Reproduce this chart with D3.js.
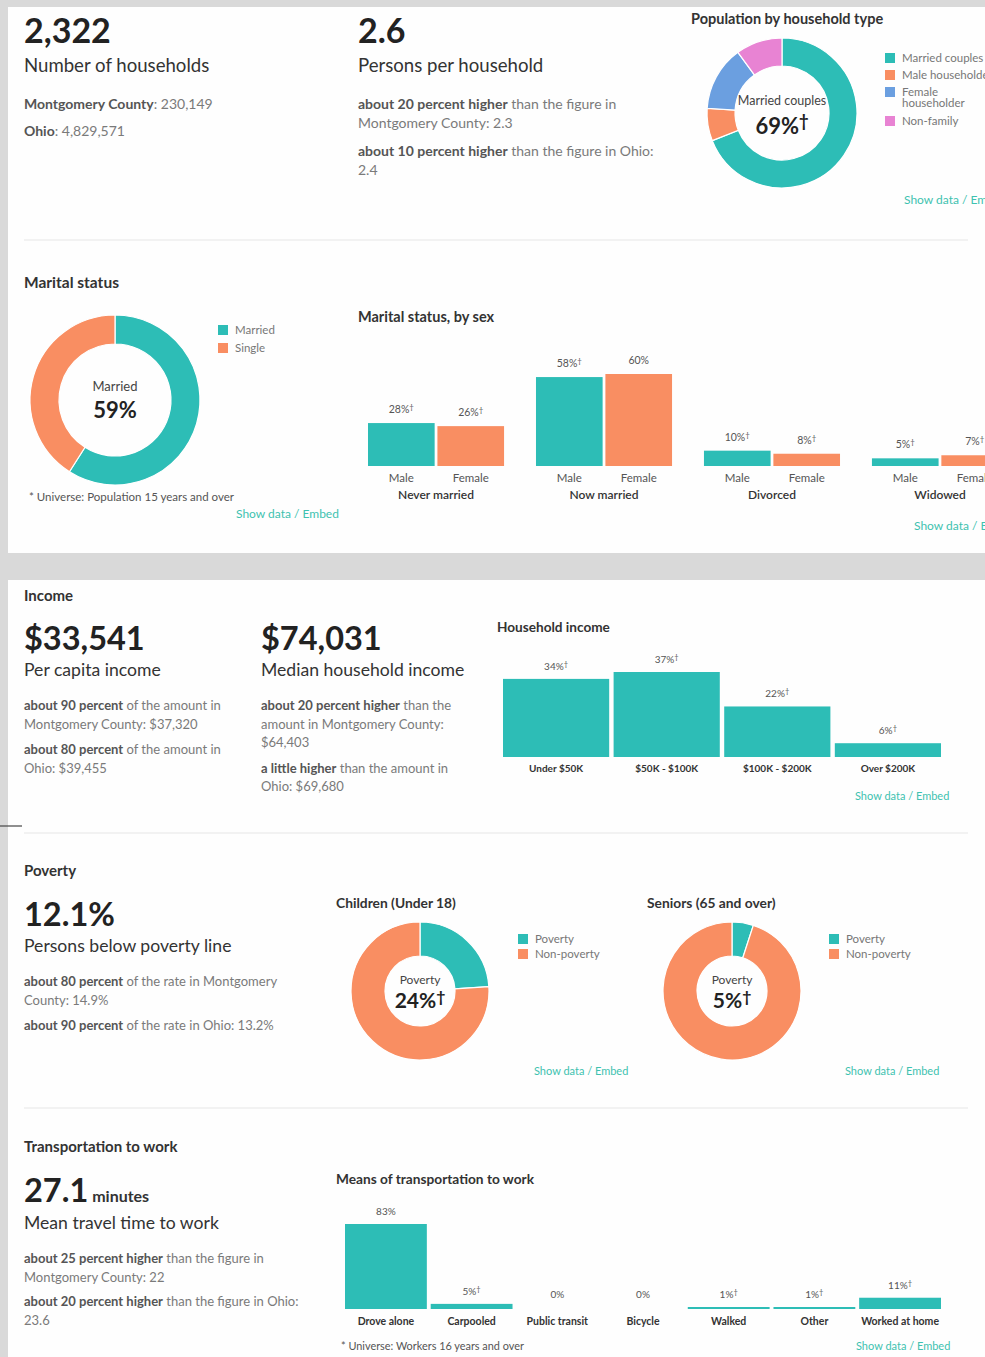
<!DOCTYPE html>
<html><head><meta charset="utf-8">
<script src="https://cdn.jsdelivr.net/npm/d3@7"></script>
<style>
html,body{margin:0;padding:0;background:#d9d9d9;}
svg{display:block;font-family:Lato,"Open Sans",sans-serif;}
</style></head><body>
<svg id="c" width="985" height="1357"></svg>
<script>
// ---------- DATA ----------
const householdTypeLabels = ["Married couples", "Male householder", "Female householder", "Non-family"];
const householdTypeValues = [69, 7, 14, 10];

const maritalLabels = ["Married", "Single"];
const maritalValues = [59, 41];

const sexGroups = ["Never married", "Now married", "Divorced", "Widowed"];
const sexLabels = ["Male", "Female"];
const maleValues = [28, 58, 10, 5];
const femaleValues = [26, 60, 8, 7];
const maleDagger = [true, true, true, true];
const femaleDagger = [true, false, true, true];

const incomeCategories = ["Under $50K", "$50K - $100K", "$100K - $200K", "Over $200K"];
const incomeValues = [34, 37, 22, 6];
const incomeDagger = [true, true, true, true];

const povertyLabels = ["Poverty", "Non-poverty"];
const childrenPoverty = [24, 76];
const seniorsPoverty = [5, 95];

const transportCategories = ["Drove alone", "Carpooled", "Public transit", "Bicycle", "Walked", "Other", "Worked at home"];
const transportValues = [83, 5, 0, 0, 1, 1, 11];
const transportDagger = [false, true, false, false, true, true, true];

// ---------- STYLE ----------
const TEAL = "#2dbdb6", ORANGE = "#f98e62", BLUE = "#6b9fe0", PINK = "#e883d3";
const LINK = "#3ec2b0";

const svg = d3.select("#c");
svg.append("rect").attr("x", 8).attr("y", 7).attr("width", 977).attr("height", 546).attr("fill", "#fefefe");
svg.append("rect").attr("x", 8).attr("y", 580).attr("width", 977).attr("height", 777).attr("fill", "#fefefe");
svg.append("line").attr("x1", 0).attr("x2", 22).attr("y1", 826).attr("y2", 826).attr("stroke", "#444").attr("stroke-width", 1.2);

// separators
[240, 833, 1108].forEach(y => svg.append("line").attr("x1", 24).attr("x2", 968).attr("y1", y).attr("y2", y).attr("stroke", "#eeeeee").attr("stroke-width", 1.5));

function txt(x, y, s, o = {}) {
  return svg.append("text").attr("x", x).attr("y", y).text(s)
    .attr("font-size", o.size || 13).attr("fill", o.color || "#333")
    .attr("font-weight", o.weight || 400).attr("text-anchor", o.anchor || "start");
}
function richLine(x, y, parts, size) {
  const t = svg.append("text").attr("x", x).attr("y", y).attr("font-size", size || 13);
  parts.forEach(p => t.append("tspan").text(p[0]).attr("font-weight", p[1] ? 700 : 400).attr("fill", p[1] ? "#555" : "#7a7a7a"));
  return t;
}
function pctLabel(x, y, v, dagger, size, color, weight) {
  const t = svg.append("text").attr("x", x).attr("y", y).attr("text-anchor", "middle")
    .attr("font-size", size).attr("fill", color || "#555").attr("font-weight", weight || 400);
  t.append("tspan").text(v + "%");
  if (dagger) t.append("tspan").text("\u2020").attr("font-size", "0.75em").attr("dy", "-0.4em");
  return t;
}
function sectionTitle(x, y, s, size) { return txt(x, y, s, {size: size || 15, weight: 700, color: "#333"}); }
function showData(x, y, size, label) { return txt(x, y, label || "Show data / Embed", {size: size || 11, color: LINK}); }

// ---------- TOP STATS ----------
txt(24, 43, "2,322", {size: 34, weight: 700, color: "#222"});
txt(24, 72, "Number of households", {size: 18.6, color: "#333"});
richLine(24, 109, [["Montgomery County", true], [": 230,149", false]], 14);
richLine(24, 136, [["Ohio", true], [": 4,829,571", false]], 14);

txt(358, 43, "2.6", {size: 34, weight: 700, color: "#222"});
txt(358, 72, "Persons per household", {size: 18.6, color: "#333"});
richLine(358, 109, [["about 20 percent higher", true], [" than the figure in", false]], 14);
richLine(358, 128, [["Montgomery County: 2.3", false]], 14);
richLine(358, 156, [["about 10 percent higher", true], [" than the figure in Ohio:", false]], 14);
richLine(358, 175, [["2.4", false]], 14);

// ---------- DONUT helper ----------
function donut(cx, cy, rOut, rIn, values, colors) {
  const pie = d3.pie().sort(null).value(d => d);
  const arc = d3.arc().innerRadius(rIn).outerRadius(rOut);
  svg.append("g").attr("transform", `translate(${cx},${cy})`)
    .selectAll("path").data(pie(values)).join("path")
    .attr("d", arc).attr("fill", (d, i) => colors[i]).attr("stroke", "#fff").attr("stroke-width", 1.2);
}
function legend(x, y, labels, colors, step, extraLines, size) {
  let yy = y;
  labels.forEach((l, i) => {
    svg.append("rect").attr("x", x).attr("y", yy).attr("width", 10).attr("height", 10).attr("fill", colors[i]);
    const lines = (extraLines && extraLines[i]) || [l];
    lines.forEach((ln, j) => txt(x + 17, yy + 9 + j * 11, ln, {size: size || 11.5, color: "#777"}));
    yy += step + (lines.length - 1) * 12;
  });
}

// Population by household type
sectionTitle(691, 24, "Population by household type", 14.5);
donut(782, 113, 75, 47, householdTypeValues, [TEAL, ORANGE, BLUE, PINK]);
txt(782, 105, "Married couples", {size: 12.5, color: "#444", anchor: "middle"});
pctLabel(782, 134, householdTypeValues[0], true, 22, "#222", 700);
legend(885, 53, householdTypeLabels, [TEAL, ORANGE, BLUE, PINK], 17, {2: ["Female", "householder"]});
showData(904, 204, 12, "Show data / Em");

// Marital status
sectionTitle(24, 288, "Marital status", 15.5);
donut(115, 400, 85, 56, maritalValues, [TEAL, ORANGE]);
txt(115, 391, "Married", {size: 13, color: "#444", anchor: "middle"});
txt(115, 418, maritalValues[0] + "%", {size: 22, color: "#222", weight: 700, anchor: "middle"});
legend(218, 325, maritalLabels, [TEAL, ORANGE], 18);
txt(29, 501, "* Universe: Population 15 years and over", {size: 11.5, color: "#555"});
showData(236, 518, 12);

// Marital status by sex
sectionTitle(358, 322, "Marital status, by sex", 14.5);
{
  const base = 466;
  const gx = d3.scaleBand().domain(sexGroups).range([368, 1008]).paddingInner(0.19).paddingOuter(0);
  const sx = d3.scaleBand().domain(sexLabels).range([0, gx.bandwidth()]).paddingInner(0.04);
  const y = d3.scaleLinear().domain([0, 60]).range([base, base - 92]);
  sexGroups.forEach((g, i) => {
    const vals = [maleValues[i], femaleValues[i]];
    const dag = [maleDagger[i], femaleDagger[i]];
    sexLabels.forEach((s, j) => {
      const x0 = gx(g) + sx(s);
      svg.append("rect").attr("x", x0).attr("y", y(vals[j])).attr("width", sx.bandwidth())
        .attr("height", base - y(vals[j])).attr("fill", j === 0 ? TEAL : ORANGE);
      pctLabel(x0 + sx.bandwidth() / 2, y(vals[j]) - 10, vals[j], dag[j], 10.5, "#555");
      txt(x0 + sx.bandwidth() / 2, base + 16, s, {size: 11.5, color: "#555", anchor: "middle"});
    });
    txt(gx(g) + gx.bandwidth() / 2, base + 33, g, {size: 12, color: "#333", anchor: "middle", weight: 600});
  });
}
showData(914, 530, 12, "Show data / E");

// ---------- INCOME ----------
sectionTitle(24, 601, "Income");
txt(24, 650, "$33,541", {size: 32.5, weight: 700, color: "#222"});
txt(24, 676, "Per capita income", {size: 17.6, color: "#333"});
richLine(24, 710, [["about 90 percent", true], [" of the amount in", false]]);
richLine(24, 729, [["Montgomery County: $37,320", false]]);
richLine(24, 754, [["about 80 percent", true], [" of the amount in", false]]);
richLine(24, 773, [["Ohio: $39,455", false]]);

txt(261, 650, "$74,031", {size: 32.5, weight: 700, color: "#222"});
txt(261, 676, "Median household income", {size: 17.6, color: "#333"});
richLine(261, 710, [["about 20 percent higher", true], [" than the", false]]);
richLine(261, 729, [["amount in Montgomery County:", false]]);
richLine(261, 747, [["$64,403", false]]);
richLine(261, 773, [["a little higher", true], [" than the amount in", false]]);
richLine(261, 791, [["Ohio: $69,680", false]]);

sectionTitle(497, 632, "Household income", 13.6);
{
  const base = 757;
  const x = d3.scaleBand().domain(incomeCategories).range([503, 941]).paddingInner(0.04).paddingOuter(0);
  const y = d3.scaleLinear().domain([0, 37]).range([base, base - 85]);
  incomeCategories.forEach((c, i) => {
    svg.append("rect").attr("x", x(c)).attr("y", y(incomeValues[i])).attr("width", x.bandwidth())
      .attr("height", base - y(incomeValues[i])).attr("fill", TEAL);
    pctLabel(x(c) + x.bandwidth() / 2, y(incomeValues[i]) - 9, incomeValues[i], incomeDagger[i], 10, "#555");
    txt(x(c) + x.bandwidth() / 2, base + 15, c, {size: 10, color: "#333", anchor: "middle", weight: 700});
  });
}
showData(855, 800);

// ---------- POVERTY ----------
sectionTitle(24, 876, "Poverty");
txt(24, 926, "12.1%", {size: 32.5, weight: 700, color: "#222"});
txt(24, 952, "Persons below poverty line", {size: 17.6, color: "#333"});
richLine(24, 986, [["about 80 percent", true], [" of the rate in Montgomery", false]]);
richLine(24, 1005, [["County: 14.9%", false]]);
richLine(24, 1030, [["about 90 percent", true], [" of the rate in Ohio: 13.2%", false]]);

sectionTitle(336, 908, "Children (Under 18)", 13.8);
donut(420, 991, 69, 35, childrenPoverty, [TEAL, ORANGE]);
txt(420, 984, "Poverty", {size: 12, color: "#444", anchor: "middle"});
pctLabel(420, 1008, childrenPoverty[0], true, 21, "#222", 700);
legend(518, 934, povertyLabels, [TEAL, ORANGE], 15);
showData(534, 1075);

sectionTitle(647, 908, "Seniors (65 and over)", 13.8);
donut(732, 991, 69, 35, seniorsPoverty, [TEAL, ORANGE]);
txt(732, 984, "Poverty", {size: 12, color: "#444", anchor: "middle"});
pctLabel(732, 1008, seniorsPoverty[0], true, 21, "#222", 700);
legend(829, 934, povertyLabels, [TEAL, ORANGE], 15);
showData(845, 1075);

// ---------- TRANSPORTATION ----------
sectionTitle(24, 1152, "Transportation to work");
{
  const t = svg.append("text").attr("x", 24).attr("y", 1202).attr("fill", "#222");
  t.append("tspan").text("27.1").attr("font-size", 32.5).attr("font-weight", 700);
  t.append("tspan").text(" minutes").attr("font-size", 16).attr("font-weight", 700).attr("fill", "#333");
}
txt(24, 1229, "Mean travel time to work", {size: 17.6, color: "#333"});
richLine(24, 1263, [["about 25 percent higher", true], [" than the figure in", false]]);
richLine(24, 1282, [["Montgomery County: 22", false]]);
richLine(24, 1306, [["about 20 percent higher", true], [" than the figure in Ohio:", false]]);
richLine(24, 1325, [["23.6", false]]);

sectionTitle(336, 1184, "Means of transportation to work", 13.7);
{
  const base = 1309;
  const x = d3.scaleBand().domain(transportCategories).range([345, 941]).paddingInner(0.045).paddingOuter(0);
  const y = d3.scaleLinear().domain([0, 83]).range([base, base - 85]);
  transportCategories.forEach((c, i) => {
    const v = transportValues[i];
    if (v > 0) {
      const h = Math.max(2, base - y(v));
      svg.append("rect").attr("x", x(c)).attr("y", base - h).attr("width", x.bandwidth())
        .attr("height", h).attr("fill", TEAL);
    }
    pctLabel(x(c) + x.bandwidth() / 2, Math.min(y(v), base - 2) - 9, v, transportDagger[i], 10, "#555");
    txt(x(c) + x.bandwidth() / 2, base + 16, c, {size: 10.5, color: "#333", anchor: "middle", weight: 700});
  });
}
txt(341, 1350, "* Universe: Workers 16 years and over", {size: 10.9, color: "#555"});
showData(856, 1350);
</script></body></html>
